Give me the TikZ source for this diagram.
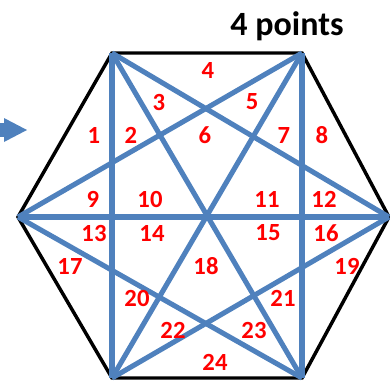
\documentclass[tikz,border=0pt]{standalone}
\usepackage{fontspec}
\setmainfont{Carlito}
\definecolor{officeblue}{HTML}{4F81BD}
\definecolor{numred}{HTML}{FF0000}
\begin{document}
\begin{tikzpicture}[x=0.75pt,y=-0.75pt,
  hexedge/.style={black,line width=2.6pt,line join=miter},
  blueline/.style={officeblue,line width=3.8pt},
  num/.style={text=numred,font=\bfseries\fontsize{18.5}{18.5}\selectfont,inner sep=0pt},
  title/.style={font=\bfseries\fontsize{25.5}{25.5}\selectfont,inner sep=0pt}]
\useasboundingbox (0,0) rectangle (390,380);
\coordinate (A) at (112,53);
\coordinate (B) at (302,53);
\coordinate (R) at (389,217);
\coordinate (C) at (302,378);
\coordinate (D) at (112,378);
\coordinate (L) at (18,217);
% hexagon
\draw[hexedge] (A) -- (B) -- (R) -- (C) -- (D) -- (L) -- cycle;
% blue lines
\draw[blueline] (A) -- (D);
\draw[blueline] (B) -- (C);
\draw[blueline] (L) -- (R);
\draw[blueline] (A) -- (R);
\draw[blueline] (A) -- (C);
\draw[blueline] (B) -- (L);
\draw[blueline] (B) -- (D);
\draw[blueline] (L) -- (C);
\draw[blueline] (R) -- (D);
% arrow
\fill[officeblue] (0,123) rectangle (5,137);
\fill[officeblue] (4,118) -- (27,130) -- (4,142) -- cycle;
% title
\node[title] (t) at (287,26) {4 points};
% numbers
\node[num] (n1) at (94,135) {1};
\node[num] (n2) at (131,135) {2};
\node[num] (n3) at (159,102) {3};
\node[num] (n4) at (208,70) {4};
\node[num] (n5) at (252,102) {5};
\node[num] (n6) at (205,135) {6};
\node[num] (n7) at (284,135) {7};
\node[num] (n8) at (322,135) {8};
\node[num] (n9) at (93,199) {9};
\node[num] (n10) at (150,199) {10};
\node[num] (n11) at (267,199) {11};
\node[num] (n12) at (324,199) {12};
\node[num] (n13) at (94,233) {13};
\node[num] (n14) at (152,233) {14};
\node[num] (n15) at (268,233) {15};
\node[num] (n16) at (326,233) {16};
\node[num] (n17) at (70,266) {17};
\node[num] (n18) at (206,266) {18};
\node[num] (n19) at (347,266) {19};
\node[num] (n20) at (137,298) {20};
\node[num] (n21) at (283,298) {21};
\node[num] (n22) at (173,330) {22};
\node[num] (n23) at (254,330) {23};
\node[num] (n24) at (215,362) {24};
\end{tikzpicture}
\end{document}
